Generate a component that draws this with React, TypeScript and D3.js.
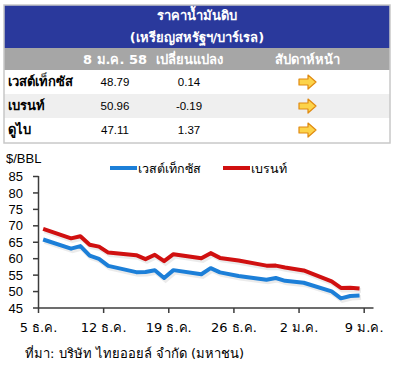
import React, { useRef, useEffect } from 'react';
import * as d3 from 'd3';

// ตารางราคาน้ำมัน
const tableTitle = ['ราคาน้ำมันดิบ', '(เหรียญสหรัฐฯ/บาร์เรล)'];
const tableHeads = ['8 ม.ค. 58', 'เปลี่ยนแปลง', 'สัปดาห์หน้า'];
const oilNames = ['เวสต์เท็กซัส', 'เบรนท์', 'ดูไบ'];
const oilPrices = ['48.79', '50.96', '47.11'];
const oilChanges = ['0.14', '-0.19', '1.37'];

// ข้อมูลกราฟ (trading days, Dec 2014 - Jan 2015)
const dates = [
  '2014-12-05', '2014-12-08', '2014-12-09', '2014-12-10', '2014-12-11', '2014-12-12',
  '2014-12-15', '2014-12-16', '2014-12-17', '2014-12-18', '2014-12-19',
  '2014-12-22', '2014-12-23', '2014-12-24', '2014-12-26',
  '2014-12-29', '2014-12-30', '2014-12-31', '2015-01-02',
  '2015-01-05', '2015-01-06', '2015-01-07', '2015-01-08',
];
const wti = [
  65.84, 63.05, 63.82, 60.94, 59.95, 57.81,
  55.91, 55.93, 56.47, 54.11, 56.52,
  55.26, 57.12, 55.84, 54.73,
  53.61, 54.12, 53.27, 52.69,
  50.04, 47.93, 48.65, 48.79,
];
const brent = [
  69.07, 66.19, 66.84, 64.24, 63.68, 61.85,
  61.06, 59.86, 61.18, 59.27, 61.38,
  60.11, 61.69, 60.24, 59.45,
  57.88, 57.9, 57.33, 56.42,
  53.11, 51.1, 51.15, 50.96,
];
const seriesNames = ['เวสต์เท็กซัส', 'เบรนท์'];
const seriesColors = ['#1c7fd8', '#d01010'];
const yTicks = [45, 50, 55, 60, 65, 70, 75, 80, 85];
const xTickDates = ['2014-12-05', '2014-12-12', '2014-12-19', '2014-12-26', '2015-01-02', '2015-01-09'];
const xTickLabels = ['5 ธ.ค.', '12 ธ.ค.', '19 ธ.ค.', '26 ธ.ค.', '2 ม.ค.', '9 ม.ค.'];
const source = 'ที่มา: บริษัท ไทยออยล์ จำกัด (มหาชน)';

const W = 397;
const H = 368;
const FONT = 'Tahoma, "DejaVu Sans", "Liberation Sans", sans-serif';
const NUMFONT = '"Liberation Sans", Arial, sans-serif';

const App: React.FC = () => {
  const svgRef = useRef<SVGSVGElement>(null);

  useEffect(() => {
    if (!svgRef.current) return;
    const svg = d3.select(svgRef.current);
    svg.selectAll('*').remove();

    // ---------- table ----------
    const tx = 4;
    const tw = 386;
    const t = svg.append('g');
    t.append('rect').attr('x', tx).attr('y', 5).attr('width', tw).attr('height', 43).attr('fill', '#2a399c');
    tableTitle.forEach((s, i) => {
      t.append('text')
        .attr('x', tx + tw / 2)
        .attr('y', 20 + i * 22)
        .attr('text-anchor', 'middle')
        .attr('fill', '#fff')
        .attr('font-weight', 'bold')
        .attr('font-size', '13px')
        .attr('font-family', FONT)
        .text(s);
    });
    t.append('rect').attr('x', tx).attr('y', 48).attr('width', tw).attr('height', 22).attr('fill', '#a6a6a6');
    const colX = [115, 189, 307];
    tableHeads.forEach((s, i) => {
      t.append('text')
        .attr('x', colX[i])
        .attr('y', 64)
        .attr('text-anchor', 'middle')
        .attr('fill', '#fff')
        .attr('font-weight', 'bold')
        .attr('font-size', '13px')
        .attr('font-family', FONT)
        .text(s);
    });

    const rowH = 24;
    oilNames.forEach((name, i) => {
      const ry = 70 + i * rowH;
      t.append('rect')
        .attr('x', tx)
        .attr('y', ry)
        .attr('width', tw)
        .attr('height', rowH)
        .attr('fill', i % 2 === 1 ? '#efefef' : '#fff');
      t.append('text')
        .attr('x', 8)
        .attr('y', ry + 16)
        .attr('font-weight', 'bold')
        .attr('font-size', '13px')
        .attr('font-family', FONT)
        .text(name);
      t.append('text')
        .attr('x', colX[0])
        .attr('y', ry + 16)
        .attr('text-anchor', 'middle')
        .attr('font-size', '11.5px')
        .attr('font-family', NUMFONT)
        .text(oilPrices[i]);
      t.append('text')
        .attr('x', colX[1])
        .attr('y', ry + 16)
        .attr('text-anchor', 'middle')
        .attr('font-size', '11.5px')
        .attr('font-family', NUMFONT)
        .text(oilChanges[i]);
      // arrow
      const ax = colX[2] - 8;
      const ay = ry + 12;
      t.append('path')
        .attr('d', `M${ax},${ay - 3} h9 v-4 l8,7 l-8,7 v-4 h-9 z`)
        .attr('fill', '#fcd34a')
        .attr('stroke', '#e08a10')
        .attr('stroke-width', 1.2)
        .attr('stroke-linejoin', 'round');
    });
    t.append('rect')
      .attr('x', tx)
      .attr('y', 5)
      .attr('width', tw)
      .attr('height', 138)
      .attr('fill', 'none')
      .attr('stroke', '#c8c8c8')
      .attr('stroke-width', 1.5);

    // ---------- chart ----------
    const parse = d3.timeParse('%Y-%m-%d');
    const x = d3
      .scaleTime()
      .domain([parse('2014-12-05') as Date, parse('2015-01-10') as Date])
      .range([38.5, 373.5]);
    const y = d3.scaleLinear().domain([45, 85]).range([308, 176.5]);
    const mid = (s: string) => d3.timeHour.offset(parse(s) as Date, 12);

    const axisColor = '#3c3c3c';
    // x axis
    svg.append('line')
      .attr('x1', 38.5).attr('x2', 373.5).attr('y1', 308).attr('y2', 308)
      .attr('stroke', axisColor).attr('stroke-width', 1.5);
    xTickDates.forEach((d, i) => {
      const px = x(parse(d) as Date);
      svg.append('line')
        .attr('x1', px).attr('x2', px).attr('y1', 308).attr('y2', 313)
        .attr('stroke', axisColor).attr('stroke-width', 1.5);
      svg.append('text')
        .attr('x', px)
        .attr('y', 332)
        .attr('text-anchor', 'middle')
        .attr('font-size', '13px')
        .attr('font-family', FONT)
        .text(xTickLabels[i]);
    });
    // y axis
    svg.append('line')
      .attr('x1', 38.5).attr('x2', 38.5).attr('y1', 176).attr('y2', 308)
      .attr('stroke', axisColor).attr('stroke-width', 1.5);
    yTicks.forEach((v) => {
      svg.append('line')
        .attr('x1', 33).attr('x2', 38.5).attr('y1', y(v)).attr('y2', y(v))
        .attr('stroke', axisColor).attr('stroke-width', 1.5);
      svg.append('text')
        .attr('x', 23)
        .attr('y', y(v))
        .attr('dy', '0.36em')
        .attr('text-anchor', 'end')
        .attr('font-size', '13px')
        .attr('font-family', NUMFONT)
        .text(v);
    });
    svg.append('text')
      .attr('x', 6)
      .attr('y', 163)
      .attr('font-size', '13px')
      .attr('font-family', NUMFONT)
      .text('$/BBL');

    const line = d3
      .line<number>()
      .x((_, i) => x(mid(dates[i])))
      .y((v) => y(v));

    [wti, brent].forEach((vals, k) => {
      svg.append('path')
        .datum(vals)
        .attr('d', line)
        .attr('fill', 'none')
        .attr('stroke', '#000')
        .attr('stroke-opacity', 0.08)
        .attr('stroke-width', 5)
        .attr('transform', 'translate(1.5,2)');
      svg.append('path')
        .datum(vals)
        .attr('d', line)
        .attr('fill', 'none')
        .attr('stroke', seriesColors[k])
        .attr('stroke-width', 4)
        .attr('stroke-linejoin', 'round');
    });

    // legend
    const legX = [110, 223];
    seriesNames.forEach((name, k) => {
      svg.append('line')
        .attr('x1', legX[k]).attr('x2', legX[k] + 27).attr('y1', 168).attr('y2', 168)
        .attr('stroke', seriesColors[k]).attr('stroke-width', 4);
      svg.append('text')
        .attr('x', legX[k] + 28)
        .attr('y', 173)
        .attr('font-size', '12.5px')
        .attr('font-family', FONT)
        .text(name);
    });

    svg.append('text')
      .attr('x', 25)
      .attr('y', 358)
      .attr('font-size', '13px')
      .attr('font-family', FONT)
      .text(source);
  }, []);

  return (
    <svg
      ref={svgRef}
      width={W}
      height={H}
      style={{ position: 'absolute', left: 0, top: 0, background: '#fff' }}
    />
  );
};

export default App;
